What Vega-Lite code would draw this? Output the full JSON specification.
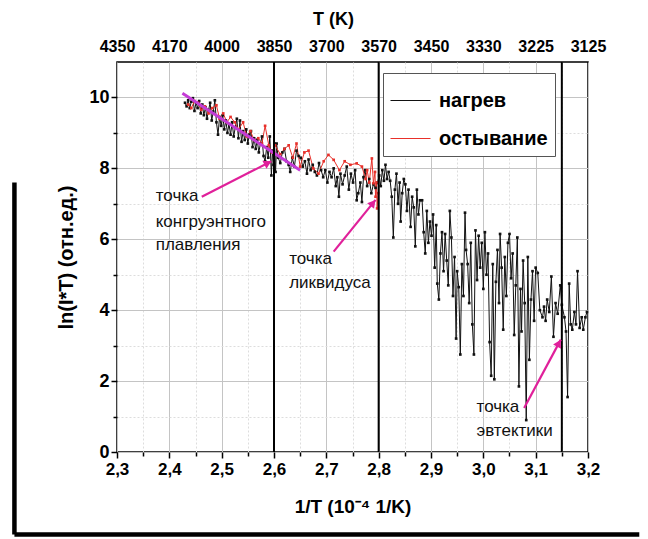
{
"$schema":"https://vega.github.io/schema/vega-lite/v6.json",
"width":471,"height":390,
"autosize":{"type":"none"},
"padding":{"left":117,"top":62,"right":60,"bottom":87},
"background":"#ffffff",
"config":{"view":{"stroke":"#000","strokeWidth":1.5},"font":"Liberation Sans"},
"datasets":{
"meas":[
{"x":2.430,"y":9.85,"s":"нагрев"},{"x":2.433,"y":9.75,"s":"нагрев"},{"x":2.436,"y":9.92,"s":"нагрев"},{"x":2.439,"y":9.70,"s":"нагрев"},{"x":2.442,"y":9.88,"s":"нагрев"},{"x":2.445,"y":9.98,"s":"нагрев"},{"x":2.448,"y":9.62,"s":"нагрев"},{"x":2.451,"y":9.85,"s":"нагрев"},{"x":2.454,"y":9.70,"s":"нагрев"},{"x":2.457,"y":9.90,"s":"нагрев"},{"x":2.460,"y":9.55,"s":"нагрев"},{"x":2.463,"y":9.80,"s":"нагрев"},{"x":2.466,"y":9.50,"s":"нагрев"},{"x":2.469,"y":9.72,"s":"нагрев"},{"x":2.472,"y":9.40,"s":"нагрев"},{"x":2.475,"y":9.65,"s":"нагрев"},{"x":2.478,"y":9.85,"s":"нагрев"},{"x":2.481,"y":9.35,"s":"нагрев"},{"x":2.484,"y":9.60,"s":"нагрев"},{"x":2.487,"y":9.92,"s":"нагрев"},{"x":2.490,"y":9.30,"s":"нагрев"},{"x":2.493,"y":8.95,"s":"нагрев"},{"x":2.496,"y":9.45,"s":"нагрев"},{"x":2.499,"y":9.20,"s":"нагрев"},{"x":2.502,"y":9.50,"s":"нагрев"},{"x":2.505,"y":9.10,"s":"нагрев"},{"x":2.508,"y":9.35,"s":"нагрев"},{"x":2.511,"y":9.00,"s":"нагрев"},{"x":2.514,"y":9.25,"s":"нагрев"},{"x":2.517,"y":8.95,"s":"нагрев"},{"x":2.520,"y":9.30,"s":"нагрев"},{"x":2.523,"y":8.90,"s":"нагрев"},{"x":2.526,"y":9.15,"s":"нагрев"},{"x":2.529,"y":9.40,"s":"нагрев"},{"x":2.532,"y":8.85,"s":"нагрев"},{"x":2.535,"y":9.35,"s":"нагрев"},{"x":2.538,"y":8.75,"s":"нагрев"},{"x":2.541,"y":9.05,"s":"нагрев"},{"x":2.544,"y":8.80,"s":"нагрев"},{"x":2.547,"y":9.10,"s":"нагрев"},{"x":2.550,"y":8.70,"s":"нагрев"},{"x":2.553,"y":8.95,"s":"нагрев"},{"x":2.556,"y":9.05,"s":"нагрев"},{"x":2.559,"y":8.60,"s":"нагрев"},{"x":2.562,"y":8.85,"s":"нагрев"},{"x":2.565,"y":8.55,"s":"нагрев"},{"x":2.568,"y":8.80,"s":"нагрев"},{"x":2.571,"y":8.45,"s":"нагрев"},{"x":2.574,"y":8.70,"s":"нагрев"},{"x":2.577,"y":8.90,"s":"нагрев"},{"x":2.580,"y":8.35,"s":"нагрев"},{"x":2.583,"y":8.20,"s":"нагрев"},{"x":2.586,"y":8.60,"s":"нагрев"},{"x":2.589,"y":8.30,"s":"нагрев"},{"x":2.592,"y":8.90,"s":"нагрев"},{"x":2.595,"y":7.80,"s":"нагрев"},{"x":2.597,"y":8.50,"s":"нагрев"},{"x":2.599,"y":8.10,"s":"нагрев"},{"x":2.601,"y":8.70,"s":"нагрев"},{"x":2.603,"y":7.90,"s":"нагрев"},{"x":2.605,"y":8.70,"s":"нагрев"},
{"x":2.608,"y":8.30,"s":"нагрев"},{"x":2.612,"y":8.15,"s":"нагрев"},{"x":2.616,"y":8.45,"s":"нагрев"},{"x":2.620,"y":8.55,"s":"нагрев"},{"x":2.624,"y":8.20,"s":"нагрев"},{"x":2.628,"y":8.10,"s":"нагрев"},{"x":2.631,"y":7.90,"s":"нагрев"},{"x":2.635,"y":8.30,"s":"нагрев"},{"x":2.639,"y":8.05,"s":"нагрев"},{"x":2.643,"y":8.50,"s":"нагрев"},{"x":2.647,"y":8.35,"s":"нагрев"},{"x":2.651,"y":8.30,"s":"нагрев"},{"x":2.655,"y":8.05,"s":"нагрев"},{"x":2.659,"y":8.20,"s":"нагрев"},{"x":2.663,"y":7.85,"s":"нагрев"},{"x":2.666,"y":8.25,"s":"нагрев"},{"x":2.670,"y":7.95,"s":"нагрев"},{"x":2.674,"y":8.10,"s":"нагрев"},{"x":2.678,"y":7.90,"s":"нагрев"},{"x":2.682,"y":7.80,"s":"нагрев"},{"x":2.686,"y":8.15,"s":"нагрев"},{"x":2.690,"y":7.95,"s":"нагрев"},{"x":2.694,"y":7.75,"s":"нагрев"},{"x":2.698,"y":7.95,"s":"нагрев"},{"x":2.702,"y":7.60,"s":"нагрев"},{"x":2.706,"y":7.90,"s":"нагрев"},{"x":2.710,"y":7.75,"s":"нагрев"},{"x":2.714,"y":8.00,"s":"нагрев"},{"x":2.718,"y":7.50,"s":"нагрев"},{"x":2.721,"y":7.75,"s":"нагрев"},{"x":2.724,"y":7.20,"s":"нагрев"},{"x":2.727,"y":7.85,"s":"нагрев"},{"x":2.731,"y":7.55,"s":"нагрев"},{"x":2.735,"y":7.80,"s":"нагрев"},{"x":2.739,"y":8.05,"s":"нагрев"},{"x":2.743,"y":7.40,"s":"нагрев"},{"x":2.747,"y":7.85,"s":"нагрев"},{"x":2.751,"y":7.60,"s":"нагрев"},{"x":2.755,"y":7.95,"s":"нагрев"},{"x":2.758,"y":7.10,"s":"нагрев"},{"x":2.761,"y":7.30,"s":"нагрев"},{"x":2.765,"y":7.60,"s":"нагрев"},{"x":2.768,"y":7.05,"s":"нагрев"},{"x":2.771,"y":7.75,"s":"нагрев"},{"x":2.774,"y":7.95,"s":"нагрев"},{"x":2.778,"y":7.50,"s":"нагрев"},{"x":2.782,"y":7.70,"s":"нагрев"},{"x":2.786,"y":7.30,"s":"нагрев"},{"x":2.790,"y":7.55,"s":"нагрев"},{"x":2.794,"y":7.45,"s":"нагрев"},{"x":2.798,"y":7.60,"s":"нагрев"},{"x":2.801,"y":7.80,"s":"нагрев"},
{"x":2.804,"y":7.50,"s":"нагрев"},{"x":2.807,"y":7.95,"s":"нагрев"},{"x":2.810,"y":7.65,"s":"нагрев"},{"x":2.813,"y":8.10,"s":"нагрев"},{"x":2.816,"y":7.70,"s":"нагрев"},{"x":2.819,"y":7.90,"s":"нагрев"},{"x":2.822,"y":7.65,"s":"нагрев"},{"x":2.825,"y":7.20,"s":"нагрев"},{"x":2.828,"y":6.05,"s":"нагрев"},{"x":2.831,"y":7.40,"s":"нагрев"},{"x":2.834,"y":7.85,"s":"нагрев"},{"x":2.837,"y":7.00,"s":"нагрев"},{"x":2.840,"y":7.60,"s":"нагрев"},{"x":2.842,"y":6.50,"s":"нагрев"},{"x":2.845,"y":7.30,"s":"нагрев"},{"x":2.848,"y":7.70,"s":"нагрев"},{"x":2.851,"y":7.55,"s":"нагрев"},{"x":2.854,"y":6.80,"s":"нагрев"},{"x":2.857,"y":7.40,"s":"нагрев"},{"x":2.861,"y":6.35,"s":"нагрев"},{"x":2.864,"y":7.20,"s":"нагрев"},{"x":2.867,"y":6.90,"s":"нагрев"},{"x":2.870,"y":5.80,"s":"нагрев"},{"x":2.873,"y":7.40,"s":"нагрев"},{"x":2.876,"y":6.70,"s":"нагрев"},{"x":2.879,"y":7.10,"s":"нагрев"},{"x":2.883,"y":7.10,"s":"нагрев"},{"x":2.886,"y":6.20,"s":"нагрев"},{"x":2.889,"y":5.60,"s":"нагрев"},{"x":2.892,"y":6.80,"s":"нагрев"},{"x":2.895,"y":5.90,"s":"нагрев"},{"x":2.898,"y":6.50,"s":"нагрев"},
{"x":2.901,"y":6.10,"s":"нагрев"},{"x":2.904,"y":6.70,"s":"нагрев"},{"x":2.907,"y":5.20,"s":"нагрев"},{"x":2.910,"y":6.40,"s":"нагрев"},{"x":2.912,"y":4.75,"s":"нагрев"},{"x":2.915,"y":4.30,"s":"нагрев"},{"x":2.918,"y":5.60,"s":"нагрев"},{"x":2.921,"y":6.20,"s":"нагрев"},{"x":2.924,"y":5.10,"s":"нагрев"},{"x":2.927,"y":6.15,"s":"нагрев"},{"x":2.930,"y":5.40,"s":"нагрев"},{"x":2.933,"y":4.70,"s":"нагрев"},{"x":2.936,"y":6.80,"s":"нагрев"},{"x":2.939,"y":6.05,"s":"нагрев"},{"x":2.942,"y":4.40,"s":"нагрев"},{"x":2.945,"y":5.50,"s":"нагрев"},{"x":2.948,"y":3.20,"s":"нагрев"},{"x":2.950,"y":5.10,"s":"нагрев"},{"x":2.953,"y":4.65,"s":"нагрев"},{"x":2.956,"y":2.75,"s":"нагрев"},{"x":2.959,"y":5.30,"s":"нагрев"},{"x":2.962,"y":4.40,"s":"нагрев"},{"x":2.965,"y":6.75,"s":"нагрев"},{"x":2.967,"y":5.70,"s":"нагрев"},{"x":2.970,"y":5.30,"s":"нагрев"},{"x":2.973,"y":4.20,"s":"нагрев"},{"x":2.976,"y":5.90,"s":"нагрев"},{"x":2.979,"y":3.60,"s":"нагрев"},{"x":2.982,"y":2.75,"s":"нагрев"},{"x":2.985,"y":6.25,"s":"нагрев"},{"x":2.988,"y":4.85,"s":"нагрев"},{"x":2.991,"y":6.10,"s":"нагрев"},{"x":2.994,"y":5.20,"s":"нагрев"},{"x":2.997,"y":5.90,"s":"нагрев"},
{"x":3.000,"y":4.60,"s":"нагрев"},{"x":3.003,"y":6.20,"s":"нагрев"},{"x":3.006,"y":5.00,"s":"нагрев"},{"x":3.009,"y":5.60,"s":"нагрев"},{"x":3.012,"y":3.10,"s":"нагрев"},{"x":3.015,"y":2.15,"s":"нагрев"},{"x":3.018,"y":5.30,"s":"нагрев"},{"x":3.021,"y":2.05,"s":"нагрев"},{"x":3.024,"y":4.80,"s":"нагрев"},{"x":3.027,"y":5.70,"s":"нагрев"},{"x":3.030,"y":4.20,"s":"нагрев"},{"x":3.032,"y":6.15,"s":"нагрев"},{"x":3.035,"y":5.20,"s":"нагрев"},{"x":3.038,"y":3.45,"s":"нагрев"},{"x":3.041,"y":5.50,"s":"нагрев"},{"x":3.044,"y":4.40,"s":"нагрев"},{"x":3.047,"y":5.90,"s":"нагрев"},{"x":3.050,"y":6.15,"s":"нагрев"},{"x":3.053,"y":4.90,"s":"нагрев"},{"x":3.056,"y":5.60,"s":"нагрев"},{"x":3.059,"y":3.30,"s":"нагрев"},{"x":3.062,"y":4.70,"s":"нагрев"},{"x":3.065,"y":6.05,"s":"нагрев"},{"x":3.068,"y":1.85,"s":"нагрев"},{"x":3.071,"y":4.60,"s":"нагрев"},{"x":3.073,"y":3.40,"s":"нагрев"},{"x":3.076,"y":5.40,"s":"нагрев"},{"x":3.079,"y":4.20,"s":"нагрев"},{"x":3.082,"y":0.90,"s":"нагрев"},{"x":3.085,"y":5.50,"s":"нагрев"},{"x":3.088,"y":2.60,"s":"нагрев"},{"x":3.091,"y":4.30,"s":"нагрев"},{"x":3.094,"y":5.10,"s":"нагрев"},{"x":3.097,"y":3.70,"s":"нагрев"},{"x":3.100,"y":5.20,"s":"нагрев"},{"x":3.104,"y":5.05,"s":"нагрев"},{"x":3.108,"y":4.00,"s":"нагрев"},{"x":3.113,"y":3.80,"s":"нагрев"},{"x":3.116,"y":4.10,"s":"нагрев"},{"x":3.119,"y":3.70,"s":"нагрев"},{"x":3.122,"y":4.30,"s":"нагрев"},{"x":3.126,"y":3.95,"s":"нагрев"},{"x":3.130,"y":4.95,"s":"нагрев"},{"x":3.134,"y":3.25,"s":"нагрев"},{"x":3.138,"y":4.20,"s":"нагрев"},{"x":3.142,"y":3.90,"s":"нагрев"},{"x":3.147,"y":4.70,"s":"нагрев"},{"x":3.150,"y":4.15,"s":"нагрев"},
{"x":3.155,"y":3.80,"s":"нагрев"},{"x":3.158,"y":3.40,"s":"нагрев"},{"x":3.161,"y":1.55,"s":"нагрев"},{"x":3.164,"y":4.75,"s":"нагрев"},{"x":3.167,"y":3.60,"s":"нагрев"},{"x":3.170,"y":3.45,"s":"нагрев"},{"x":3.174,"y":3.95,"s":"нагрев"},{"x":3.177,"y":3.60,"s":"нагрев"},{"x":3.180,"y":5.10,"s":"нагрев"},{"x":3.184,"y":3.50,"s":"нагрев"},{"x":3.188,"y":3.80,"s":"нагрев"},{"x":3.191,"y":3.45,"s":"нагрев"},{"x":3.195,"y":3.80,"s":"нагрев"},{"x":3.198,"y":3.95,"s":"нагрев"},
{"x":2.436,"y":9.80,"s":"остывание"},{"x":2.442,"y":9.70,"s":"остывание"},{"x":2.448,"y":9.90,"s":"остывание"},{"x":2.455,"y":9.85,"s":"остывание"},{"x":2.461,"y":9.65,"s":"остывание"},{"x":2.468,"y":9.75,"s":"остывание"},{"x":2.475,"y":9.55,"s":"остывание"},{"x":2.482,"y":9.70,"s":"остывание"},{"x":2.490,"y":9.78,"s":"остывание"},{"x":2.496,"y":9.40,"s":"остывание"},{"x":2.503,"y":9.55,"s":"остывание"},{"x":2.510,"y":9.30,"s":"остывание"},{"x":2.517,"y":9.45,"s":"остывание"},{"x":2.525,"y":9.30,"s":"остывание"},{"x":2.532,"y":9.10,"s":"остывание"},{"x":2.541,"y":9.30,"s":"остывание"},{"x":2.548,"y":8.90,"s":"остывание"},{"x":2.555,"y":9.05,"s":"остывание"},{"x":2.562,"y":8.80,"s":"остывание"},{"x":2.570,"y":8.85,"s":"остывание"},{"x":2.577,"y":8.70,"s":"остывание"},{"x":2.583,"y":9.20,"s":"остывание"},{"x":2.590,"y":8.65,"s":"остывание"},{"x":2.596,"y":8.45,"s":"остывание"},{"x":2.602,"y":8.65,"s":"остывание"},{"x":2.612,"y":8.40,"s":"остывание"},{"x":2.620,"y":8.55,"s":"остывание"},{"x":2.628,"y":8.65,"s":"остывание"},{"x":2.636,"y":8.30,"s":"остывание"},{"x":2.643,"y":8.70,"s":"остывание"},{"x":2.650,"y":8.05,"s":"остывание"},{"x":2.658,"y":8.45,"s":"остывание"},{"x":2.666,"y":8.50,"s":"остывание"},{"x":2.675,"y":8.00,"s":"остывание"},{"x":2.685,"y":7.85,"s":"остывание"},{"x":2.695,"y":8.20,"s":"остывание"},{"x":2.704,"y":8.38,"s":"остывание"},{"x":2.714,"y":8.24,"s":"остывание"},{"x":2.725,"y":7.95,"s":"остывание"},{"x":2.735,"y":8.20,"s":"остывание"},{"x":2.746,"y":8.10,"s":"остывание"},{"x":2.758,"y":8.14,"s":"остывание"},{"x":2.768,"y":8.05,"s":"остывание"},{"x":2.775,"y":7.70,"s":"остывание"},{"x":2.778,"y":7.95,"s":"остывание"},{"x":2.782,"y":7.60,"s":"остывание"},{"x":2.787,"y":8.28,"s":"остывание"},{"x":2.790,"y":7.58,"s":"остывание"},{"x":2.793,"y":7.90,"s":"остывание"},{"x":2.794,"y":7.20,"s":"остывание"},{"x":2.796,"y":7.60,"s":"остывание"},{"x":2.797,"y":6.87,"s":"остывание"},{"x":2.799,"y":7.30,"s":"остывание"}
],
"fit":[{"x":2.425,"y":10.12},{"x":2.650,"y":7.95}],
"vlines":[{"v":2.6},{"v":2.8},{"v":3.15}],
"arrows":[{"id":"a1","x0":2.462,"y0":7.20,"x1":2.595,"y1":8.20},{"id":"a2","x0":2.714,"y0":5.65,"x1":2.794,"y1":7.11},{"id":"a3","x0":3.078,"y0":1.24,"x1":3.148,"y1":3.17}],
"notes":[{"x":2.374,"y":7.22,"t":"точка"},{"x":2.374,"y":6.50,"t":"конгруэнтного"},{"x":2.374,"y":5.84,"t":"плавления"},{"x":2.629,"y":5.44,"t":"точка"},{"x":2.629,"y":4.76,"t":"ликвидуса"},{"x":2.987,"y":1.28,"t":"точка"},{"x":2.987,"y":0.58,"t":"эвтектики"}],
"frame":[{"x":2.104,"y":7.6,"x2":2.104,"y2":-2.33},{"x":2.104,"y":-2.33,"x2":3.298,"y2":-2.33}]
},
"layer":[
{"data":{"name":"meas"},
 "mark":{"type":"line","strokeWidth":1,"point":{"filled":true,"size":7,"shape":"square"}},
 "encoding":{
  "x":{"field":"x","type":"quantitative","scale":{"domain":[2.3,3.2],"nice":false,"zero":false},
   "axis":{"orient":"bottom","values":[2.3,2.35,2.4,2.45,2.5,2.55,2.6,2.65,2.7,2.75,2.8,2.85,2.9,2.95,3.0,3.05,3.1,3.15,3.2],
    "title":"1/T (10⁻⁴ 1/K)","titleFontSize":19,"titleFontWeight":"bold","titleColor":"#000","titlePadding":20,
    "labelExpr":"abs(datum.value*10-round(datum.value*10))<0.001 ? replace(format(datum.value,'.1f'),'.',',') : ''",
    "labelFontSize":17,"labelFontWeight":"bold","labelColor":"#000","labelPadding":3,"labelFlush":false,"labelOverlap":false,
    "domain":false,"tickColor":"#000","tickWidth":1.5,
    "tickSize":{"condition":{"test":"abs(datum.value*10-round(datum.value*10))<0.001","value":6},"value":4},
    "grid":true,
    "gridColor":{"condition":{"test":"abs(datum.value*10-round(datum.value*10))<0.001","value":"#c4c4c4"},"value":"#dddddd"},
    "gridDash":{"condition":{"test":"abs(datum.value*10-round(datum.value*10))<0.001","value":[]},"value":[2,2]},
    "gridWidth":1}},
  "y":{"field":"y","type":"quantitative","scale":{"domain":[0,11],"nice":false,"zero":false},
   "axis":{"orient":"left","values":[0,1,2,3,4,5,6,7,8,9,10],
    "title":"ln(I*T) (отн.ед.)","titleFontSize":20,"titleFontWeight":"bold","titleColor":"#000","titlePadding":12,
    "labelExpr":"datum.value % 2 == 0 ? datum.value : ''",
    "labelFontSize":18,"labelFontWeight":"bold","labelColor":"#000","labelPadding":2,"labelFlush":false,"labelOverlap":false,
    "domain":false,"tickColor":"#000","tickWidth":1.5,
    "tickSize":{"condition":{"test":"datum.value % 2 == 0","value":6},"value":4},
    "grid":true,
    "gridColor":{"condition":{"test":"datum.value % 2 == 0","value":"#c4c4c4"},"value":"#dddddd"},
    "gridDash":{"condition":{"test":"datum.value % 2 == 0","value":[]},"value":[2,2]},
    "gridWidth":1}},
  "color":{"field":"s","type":"nominal","scale":{"domain":["нагрев","остывание"],"range":["#111111","#e8302a"]},
   "legend":{"orient":"none","legendX":266,"legendY":11,"title":null,"labelFontSize":20,"labelFontWeight":"bold","labelColor":"#000",
    "symbolType":"stroke","symbolSize":1600,"symbolStrokeWidth":1,"strokeColor":"#555","fillColor":"#fff","padding":7,"rowPadding":7,"labelOffset":8}}
 }},
{"data":{"name":"fit"},"mark":{"type":"line","color":"#c43cd6","strokeWidth":3},
 "encoding":{"x":{"field":"x","type":"quantitative","axis":null},"y":{"field":"y","type":"quantitative","axis":null}}},
{"data":{"name":"vlines"},"mark":{"type":"rule","color":"#000","strokeWidth":2},
 "encoding":{"x":{"field":"v","type":"quantitative",
  "axis":{"orient":"top","values":[2.3,2.4,2.5,2.6,2.7,2.8,2.9,3.0,3.1,3.2],
   "labelExpr":"['4350','4170','4000','3850','3700','3570','3450','3330','3225','3125'][round((datum.value-2.3)*10)]",
   "title":"T (K)","titleFontSize":18,"titleFontWeight":"bold","titleColor":"#000","titlePadding":10,"titleX":216,
   "labelFontSize":16,"labelFontWeight":"bold","labelColor":"#000","labelPadding":8,"labelFlush":false,"labelOverlap":false,
   "ticks":false,"domain":false,"grid":false}}}},
{"data":{"name":"arrows"},"mark":{"type":"rule","color":"#e0209a","strokeWidth":2.2},
 "encoding":{"x":{"field":"x0","type":"quantitative","axis":null},"y":{"field":"y0","type":"quantitative","axis":null},"x2":{"field":"x1"},"y2":{"field":"y1"}}},
{"data":{"name":"arrows"},"transform":[{"filter":"datum.id=='a1'"}],"mark":{"type":"point","shape":"triangle-up","filled":true,"color":"#e0209a","size":80,"angle":63,"xOffset":-3.5,"yOffset":1.8,"opacity":1},
 "encoding":{"x":{"field":"x1","type":"quantitative","axis":null},"y":{"field":"y1","type":"quantitative","axis":null}}},
{"data":{"name":"arrows"},"transform":[{"filter":"datum.id=='a2'"}],"mark":{"type":"point","shape":"triangle-up","filled":true,"color":"#e0209a","size":80,"angle":39,"xOffset":-2.5,"yOffset":3.1,"opacity":1},
 "encoding":{"x":{"field":"x1","type":"quantitative","axis":null},"y":{"field":"y1","type":"quantitative","axis":null}}},
{"data":{"name":"arrows"},"transform":[{"filter":"datum.id=='a3'"}],"mark":{"type":"point","shape":"triangle-up","filled":true,"color":"#e0209a","size":80,"angle":28,"xOffset":-1.9,"yOffset":3.5,"opacity":1},
 "encoding":{"x":{"field":"x1","type":"quantitative","axis":null},"y":{"field":"y1","type":"quantitative","axis":null}}},
{"data":{"name":"notes"},"mark":{"type":"text","align":"left","baseline":"middle","fontSize":17,"color":"#111"},
 "encoding":{"x":{"field":"x","type":"quantitative","axis":null},"y":{"field":"y","type":"quantitative","axis":null},"text":{"field":"t"}}},
{"data":{"name":"frame"},"mark":{"type":"rule","color":"#000","strokeWidth":4.5},
 "encoding":{"x":{"field":"x","type":"quantitative","axis":null},"y":{"field":"y","type":"quantitative","axis":null},"x2":{"field":"x2"},"y2":{"field":"y2"}}}
],
"resolve":{"axis":{"x":"independent","y":"independent"}}
}
